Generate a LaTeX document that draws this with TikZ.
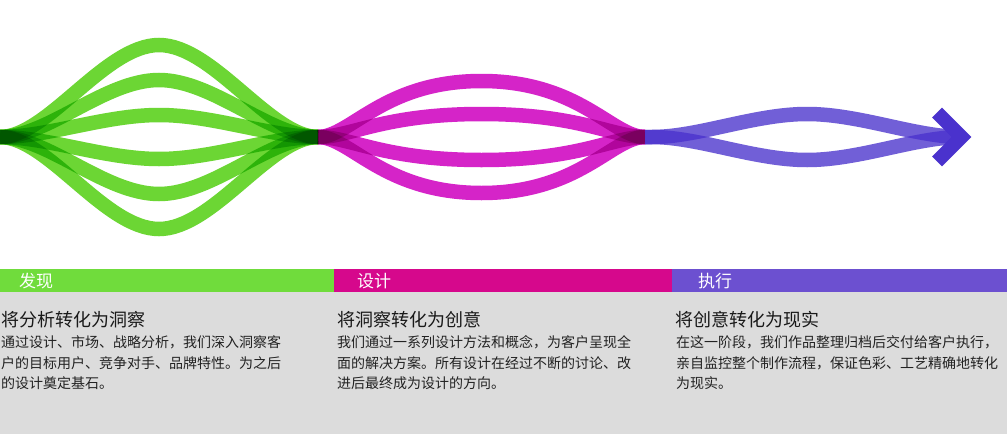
\documentclass[tikz,border=0pt]{standalone}
\usepackage{fontspec}
\newfontfamily\cjk{Noto Sans CJK SC}
\definecolor{gstrand}{RGB}{108,214,52}
\definecolor{mstrand}{RGB}{213,36,200}
\definecolor{pcore}{RGB}{74,50,205}
\definecolor{gbar}{RGB}{112,220,60}
\definecolor{mbar}{RGB}{214,8,140}
\definecolor{pbar}{RGB}{108,80,208}
\definecolor{graybg}{RGB}{220,220,220}
\definecolor{txt}{RGB}{34,34,34}
% #1 style, #2 x0, #3 length, #4 amplitude, #5 #6 control fractions
\newcommand\mystrand[6]{%
  \draw[strandline,#1] (#2,137) .. controls ({#2+#5*#3},137) and ({#2+#6*#3},{137-#4}) .. ({#2+0.5*#3},{137-#4})
     .. controls ({#2+(1-#6)*#3},{137-#4}) and ({#2+(1-#5)*#3},137) .. ({#2+#3},137);}
\begin{document}
\begin{tikzpicture}[x=1pt,y=-1pt,
  strandline/.style={line width=14.5pt},
  barlabel/.style={anchor=base west,inner sep=0pt,text=white,font=\cjk\fontsize{17}{17}\selectfont},
  heading/.style={anchor=base west,inner sep=0pt,text=black!90,font=\cjk\fontsize{18}{18}\selectfont},
  bodyline/.style={anchor=base west,inner sep=0pt,text=txt,font=\cjk\fontsize{14}{14}\selectfont}]
\useasboundingbox (0,0) rectangle (1007,434);
\fill[white] (0,0) rectangle (1007,434);
\fill[graybg] (0,292) rectangle (1007,434);
\fill[gbar] (0,269) rectangle (334,292);
\fill[mbar] (334,269) rectangle (672,292);
\fill[pbar] (672,269) rectangle (1007,292);
% strands
\begin{scope}[blend mode=multiply]
\foreach \a in {92,57,22,-22,-57,-92}{\mystrand{gstrand}{0}{318}{\a}{0.15}{0.33}}
\foreach \a in {56,23,-23,-56}{\mystrand{mstrand}{318}{327}{\a}{0.1}{0.2}}
\end{scope}
\foreach \a in {23,-23}{
  \draw[strandline,pcore,opacity=0.78] (645,137) -- (652,137)
     .. controls ({652+0.15*310},137) and ({652+0.33*310},{137-\a}) .. (807,{137-\a})
     .. controls ({962-0.33*310},{137-\a}) and ({962-0.15*310},137) .. (962,137);}
\draw[pcore,line width=14pt,line join=miter] (937,112.5) -- (961.5,137) -- (937,161.5);
% bar labels
\node[barlabel] (l1) at (19,287.5) {发现};
\node[barlabel] (l2) at (357,287.5) {设计};
\node[barlabel] (l3) at (698,287.5) {执行};
% column 1
\node[heading] (h1) at (1,326.8) {将分析转化为洞察};
\node[bodyline] (a1) at (1,347.5) {通过设计、市场、战略分析，我们深入洞察客};
\node[bodyline] (a2) at (1,368) {户的目标用户、竞争对手、品牌特性。为之后};
\node[bodyline] (a3) at (1,388.5) {的设计奠定基石。};
% column 2
\node[heading] (h2) at (337,326.8) {将洞察转化为创意};
\node[bodyline] (b1) at (337,347.5) {我们通过一系列设计方法和概念，为客户呈现全};
\node[bodyline] (b2) at (337,368) {面的解决方案。所有设计在经过不断的讨论、改};
\node[bodyline] (b3) at (337,388.5) {进后最终成为设计的方向。};
% column 3
\node[heading] (h3) at (675,326.8) {将创意转化为现实};
\node[bodyline] (c1) at (676,347.5) {在这一阶段，我们作品整理归档后交付给客户执行，};
\node[bodyline] (c2) at (676,368) {亲自监控整个制作流程，保证色彩、工艺精确地转化};
\node[bodyline] (c3) at (676,388.5) {为现实。};
\end{tikzpicture}
\end{document}
